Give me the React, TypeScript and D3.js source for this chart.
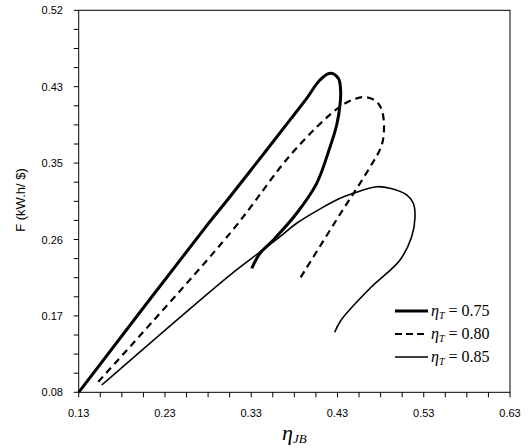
import React, {useEffect, useRef} from "react";
import * as d3 from "d3";

const W = 528;
const H = 448;
const M = {left: 78.7, right: 510, top: 10.3, bottom: 392.3};

const xTicks = [0.13, 0.23, 0.33, 0.43, 0.53, 0.63];
const xTickLabels = ["0.13", "0.23", "0.33", "0.43", "0.53", "0.63"];
const yTicks = [0.08, 0.168, 0.256, 0.344, 0.432, 0.52];
const yTickLabels = ["0.08", "0.17", "0.26", "0.35", "0.43", "0.52"];

// eta_T = 0.75
const eta75: [number, number][] = [
  [0.130, 0.080], [0.280, 0.274], [0.3054, 0.3053], [0.3479, 0.3591],
  [0.375, 0.3937], [0.3943, 0.4186], [0.4097, 0.4397], [0.4213, 0.4474],
  [0.431, 0.4417], [0.4337, 0.4262], [0.4329, 0.4109], [0.4291, 0.3879],
  [0.4202, 0.3591], [0.4059, 0.3207], [0.3827, 0.2862],
  [0.3556, 0.2554], [0.3402, 0.2401], [0.3306, 0.2228],
];
// eta_T = 0.80
const eta80: [number, number][] = [
  [0.1527, 0.0922], [0.3054, 0.2631], [0.3788, 0.3571],
  [0.4329, 0.409], [0.4523, 0.4186], [0.4639, 0.4198], [0.4755, 0.4147],
  [0.4813, 0.4052], [0.4839, 0.3879], [0.4813, 0.3648], [0.4657, 0.3361],
  [0.4337, 0.2862], [0.3866, 0.2113],
];
// eta_T = 0.85
const eta85: [number, number][] = [
  [0.1567, 0.0884], [0.3054, 0.2151], [0.3382, 0.2401], [0.3634, 0.2592],
  [0.3827, 0.2747], [0.4329, 0.3034], [0.4483, 0.3092], [0.4755, 0.3168],
  [0.4909, 0.315], [0.5102, 0.3073], [0.5179, 0.2977], [0.5199, 0.2823],
  [0.516, 0.2592], [0.5025, 0.2324], [0.4677, 0.1998], [0.4337, 0.1625],
  [0.4268, 0.1491],
];

const series = [
  {label: "0.75", data: eta75, width: 3, dash: null},
  {label: "0.80", data: eta80, width: 2.2, dash: "7,5"},
  {label: "0.85", data: eta85, width: 1.6, dash: null},
];

export default function App() {
  const ref = useRef<SVGSVGElement>(null);

  useEffect(() => {
    const svg = d3.select(ref.current);
    svg.selectAll("*").remove();

    const x = d3.scaleLinear().domain([0.13, 0.63]).range([M.left, M.right]);
    const y = d3.scaleLinear().domain([0.08, 0.52]).range([M.bottom, M.top]);

    // frame
    svg.append("rect")
      .attr("x", M.left).attr("y", M.top)
      .attr("width", M.right - M.left).attr("height", M.bottom - M.top)
      .attr("fill", "none").attr("stroke", "black").attr("stroke-width", 1);

    // x axis
    const xMinor = d3.range(0, 21).map(i => 0.13 + i * 0.025);
    svg.append("g").selectAll("line").data(xMinor).join("line")
      .attr("x1", d => x(d)).attr("x2", d => x(d))
      .attr("y1", M.bottom).attr("y2", M.bottom + 5)
      .attr("stroke", "black");
    svg.append("g").selectAll("text").data(xTicks).join("text")
      .attr("x", d => x(d)).attr("y", M.bottom + 25)
      .attr("text-anchor", "middle")
      .style("font-family", "'Liberation Sans', sans-serif").style("font-size", "11px")
      .text((d, i) => xTickLabels[i]);

    // y axis
    const yMinor = d3.range(0, 21).map(i => 0.08 + i * 0.022);
    svg.append("g").selectAll("line").data(yMinor).join("line")
      .attr("x1", M.left - 5).attr("x2", M.left)
      .attr("y1", d => y(d)).attr("y2", d => y(d))
      .attr("stroke", "black");
    svg.append("g").selectAll("text").data(yTicks).join("text")
      .attr("x", 63).attr("y", d => y(d) + 4)
      .attr("text-anchor", "end")
      .style("font-family", "'Liberation Sans', sans-serif").style("font-size", "11px")
      .text((d, i) => yTickLabels[i]);

    // axis titles
    svg.append("text")
      .attr("transform", "translate(25,200) rotate(-90)")
      .attr("text-anchor", "middle")
      .style("font-family", "'Liberation Sans', sans-serif").style("font-size", "13px")
      .text("F (kW.h/ $)");
    const xt = svg.append("text")
      .attr("x", 282).attr("y", 440)
      .style("font-family", "'Liberation Serif', serif").style("font-style", "italic");
    xt.append("tspan").style("font-size", "22px").text("η");
    xt.append("tspan").style("font-size", "13px").attr("dy", 3).text("JB");

    // curves
    const line = d3.line<[number, number]>()
      .x(d => x(d[0])).y(d => y(d[1]))
      .curve(d3.curveCatmullRom.alpha(0.5));
    series.forEach(s => {
      svg.append("path")
        .attr("d", line(s.data))
        .attr("fill", "none").attr("stroke", "black")
        .attr("stroke-width", s.width)
        .attr("stroke-dasharray", s.dash)
        .attr("stroke-linejoin", "round");
    });

    // legend
    series.forEach((s, i) => {
      const ly = 311 + i * 23;
      svg.append("line")
        .attr("x1", 395).attr("x2", 428).attr("y1", ly).attr("y2", ly)
        .attr("stroke", "black").attr("stroke-width", s.width)
        .attr("stroke-dasharray", s.dash ? "7,4" : null);
      const t = svg.append("text")
        .attr("x", 431).attr("y", ly + 5)
        .style("font-family", "'Liberation Serif', serif").style("font-size", "16px");
      t.append("tspan").style("font-style", "italic").text("η");
      t.append("tspan").style("font-style", "italic").style("font-size", "10px").attr("dy", 3).text("T");
      t.append("tspan").attr("dy", -3).text(" = " + s.label);
    });
  }, []);

  return (
    <svg ref={ref} width={W} height={H}
      style={{position: "absolute", left: 0, top: 0, background: "white"}} />
  );
}
